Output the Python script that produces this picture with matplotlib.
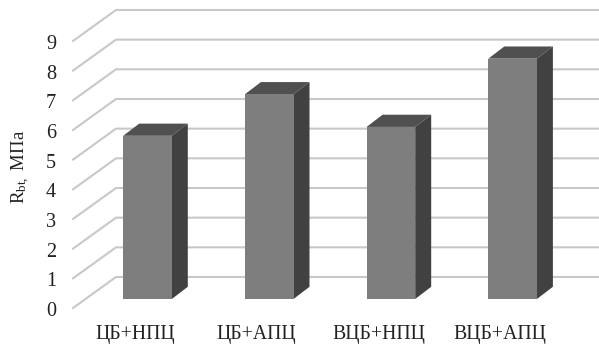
import matplotlib
matplotlib.use("Agg")
import matplotlib.pyplot as plt

plt.rcParams['font.family'] = ['Liberation Serif', 'DejaVu Serif']
plt.rcParams['mathtext.default'] = 'regular'

categories = ["ЦБ+НПЦ", "ЦБ+АПЦ", "ВЦБ+НПЦ", "ВЦБ+АПЦ"]
strength = [5.5, 6.9, 5.8, 8.1]
y_ticks = [0, 1, 2, 3, 4, 5, 6, 7, 8, 9]

W, H = 599, 347
px_x = 121.7  # pixels per category
px_y = 29.67  # pixels per MPa

fig = plt.figure(figsize=(W / 100, H / 100), dpi=100)
ax = fig.add_axes([0, 0, 1, 1])
ax.set_xlim(-147.5 / px_x, (W - 147.5) / px_x)
ax.set_ylim((299 - H) / px_y, 299 / px_y)
ax.axis("off")

bar_w = 48.6 / px_x
depth_x = 16 / px_x
depth_y = 12.2 / px_y

# floor offsets of the front and back edges relative to the bar plane
front_x, front_y = -74.5 / px_x, -9 / px_y
back_x, back_y = -31.5 / px_x, 22 / px_y
right = (W + 2 - 147.5) / px_x

for v in y_ticks:
    ax.plot([front_x, back_x, right], [v + front_y, v + back_y, v + back_y],
            color="#c8c8c8", lw=1.5, solid_joinstyle="miter", zorder=1)
    ax.text(front_x - 22 / px_x, v + front_y - 3.5 / px_y, str(v), ha="center", va="center",
            fontsize=14.6, color="#222222")

for i, val in enumerate(strength):
    x0 = i - bar_w / 2
    x1 = i + bar_w / 2
    ax.bar(i, val, width=bar_w, color="#7e7e7e", lw=0, zorder=3)
    # top face
    ax.fill([x0, x1, x1 + depth_x, x0 + depth_x],
            [val, val, val + depth_y, val + depth_y],
            color="#505050", lw=0, zorder=2)
    # side face
    ax.fill([x1, x1 + depth_x, x1 + depth_x, x1],
            [0, depth_y, val + depth_y, val],
            color="#414141", lw=0, zorder=2)
    ax.text(i - 12.5 / px_x, -36 / px_y, categories[i], ha="center", va="center",
            fontsize=14.2, color="#222222")

ax.text(-127 / px_x, 132 / px_y, "R$_{bt,}$ МПа", rotation=90, ha="center", va="center",
        fontsize=13.5, color="#222222")

fig.savefig("out.png", dpi=100)
